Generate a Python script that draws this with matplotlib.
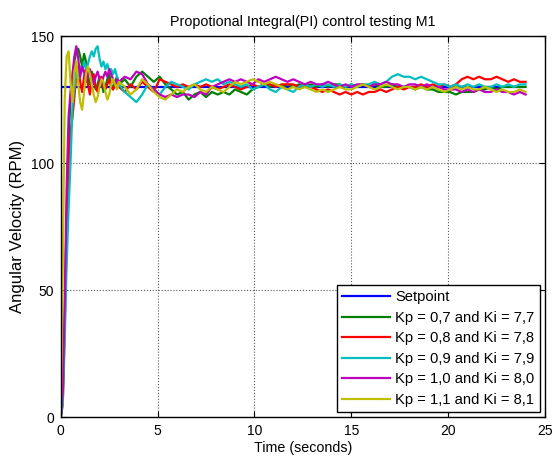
import numpy as np
import matplotlib.pyplot as plt

plt.rcParams['font.family'] = ['Liberation Sans', 'DejaVu Sans']

# sample times: 0.1 s during the rise, 0.3 s afterwards
t_rise = np.round(np.arange(0, 3.0, 0.1), 2)
t_hold = np.round(3.0 + 0.3 * np.arange(71), 2)
t = np.concatenate([t_rise, t_hold])

setpoint_t = [0, 23.9]
setpoint = [130, 130]

labels = ['Kp = 0,7 and Ki = 7,7', 'Kp = 0,8 and Ki = 7,8', 'Kp = 0,9 and Ki = 7,9',
          'Kp = 1,0 and Ki = 8,0', 'Kp = 1,1 and Ki = 8,1']

kp07 = [0, 8, 40, 80, 110, 125, 133, 140, 144, 145, 142, 138, 143, 140, 134, 131, 136, 133, 129, 131,
        134, 132, 128, 130, 133, 135, 131, 129, 132, 134,
        131, 133, 130, 134, 136, 134, 132, 134, 131, 129,
        127, 128, 125, 127, 128, 126, 128, 127, 128, 127,
        129, 128, 127, 129, 130, 131, 130, 131, 130, 131,
        130, 131, 130, 131, 130, 131, 130, 131, 131, 130,
        131, 130, 131, 130, 131, 130, 130, 131, 130, 130,
        130, 129, 130, 129, 129, 128, 128, 128, 127, 128,
        128, 128, 129, 129, 130, 129, 130, 130, 130, 130,
        130]
kp08 = [0, 5, 35, 70, 100, 112, 118, 126, 135, 138, 132, 128, 134, 137, 131, 127, 133, 135, 130, 128,
        132, 134, 130, 129, 131, 133, 130, 129, 131, 132,
        130, 128, 131, 129, 132, 130, 128, 133, 132, 131,
        130, 131, 130, 131, 130, 131, 130, 129, 130, 131,
        130, 129, 130, 131, 130, 131, 131, 130, 131, 131,
        131, 130, 131, 130, 129, 128, 129, 128, 127, 128,
        127, 128, 127, 128, 128, 129, 128, 129, 130, 129,
        130, 130, 131, 130, 131, 130, 131, 130, 131, 133,
        134, 133, 134, 133, 133, 134, 133, 132, 133, 132,
        132]
kp09 = [0, 5, 30, 60, 82, 100, 122, 130, 136, 133, 138, 136, 140, 137, 139, 142, 144, 142, 145, 146,
        141, 138, 140, 137, 139, 136, 137, 135, 137, 134,
        131, 128, 126, 124, 127, 131, 129, 127, 130, 132,
        131, 130, 129, 131, 132, 133, 132, 133, 131, 132,
        131, 130, 131, 129, 130, 131, 129, 128, 130, 129,
        128, 130, 131, 130, 131, 130, 131, 130, 131, 130,
        131, 130, 131, 131, 132, 131, 132, 134, 135, 134,
        134, 133, 134, 133, 132, 131, 131, 130, 131, 130,
        131, 130, 131, 130, 130, 131, 130, 131, 130, 131,
        131]
kp10 = [0, 10, 45, 90, 118, 128, 135, 142, 146, 141, 134, 138, 136, 132, 135, 137, 133, 131, 134, 136,
        133, 131, 134, 136, 134, 137, 135, 133, 131, 133,
        132, 134, 133, 136, 135, 131, 129, 127, 126, 127,
        126, 127, 127, 126, 128, 127, 130, 131, 132, 133,
        132, 133, 132, 131, 133, 132, 133, 134, 133, 132,
        133, 132, 131, 132, 131, 131, 132, 131, 130, 131,
        130, 131, 131, 130, 131, 131, 132, 131, 131, 130,
        131, 131, 130, 131, 130, 130, 129, 129, 129, 128,
        129, 128, 129, 128, 128, 129, 128, 128, 127, 128,
        127]
kp11 = [0, 60, 125, 142, 144, 132, 124, 136, 140, 131, 124, 121, 128, 135, 138, 135, 131, 127, 124, 126,
        130, 133, 132, 128, 125, 127, 131, 133, 131, 129,
        132, 130, 127, 129, 133, 131, 128, 126, 125, 127,
        129, 128, 130, 131, 129, 128, 130, 129, 128, 130,
        132, 131, 132, 133, 132, 131, 132, 131, 130, 129,
        130, 129, 130, 129, 128, 129, 128, 129, 130, 129,
        129, 130, 131, 130, 129, 130, 131, 130, 129, 130,
        130, 129, 130, 129, 130, 129, 128, 129, 130, 129,
        130, 129, 129, 130, 129, 128, 129, 128, 128, 129,
        128]

series = [kp07, kp08, kp09, kp10, kp11]
colors = [(0, 0.5, 0), (1, 0, 0), (0, 0.75, 0.75), (0.75, 0, 0.75), (0.75, 0.75, 0)]

fig = plt.figure(figsize=(5.53, 4.57), dpi=100)
ax = fig.add_axes([0.110, 0.0875, 0.8755, 0.8335])

ax.plot(setpoint_t, setpoint, color=(0, 0, 1), lw=1.6, label='Setpoint')
for y, c, lab in zip(series, colors, labels):
    ax.plot(t, y, color=c, lw=1.6, label=lab)

ax.set_xlim(0, 25)
ax.set_ylim(0, 150)
ax.set_xticks([0, 5, 10, 15, 20, 25])
ax.set_yticks([0, 50, 100, 150])
ax.tick_params(direction='in', top=True, right=True, labelsize=10, length=4, width=0.8, pad=5)
ax.grid(True, linestyle=':', color='0.35', lw=0.8)
for s in ax.spines.values():
    s.set_linewidth(1.0)

ax.set_title('Propotional Integral(PI) control testing M1', fontsize=10.3, pad=7.5)
ax.set_xlabel('Time (seconds)', fontsize=10.3, labelpad=2)
ax.set_ylabel('Angular Velocity (RPM)', fontsize=12, labelpad=4)

leg = ax.legend(loc='lower right', fontsize=10.6, fancybox=False, framealpha=1,
                edgecolor='black', handlelength=3.2, borderaxespad=0.35,
                labelspacing=0.44, handletextpad=0.4, borderpad=0.35)
leg.get_frame().set_linewidth(1.0)

fig.savefig('out.png', dpi=100)
